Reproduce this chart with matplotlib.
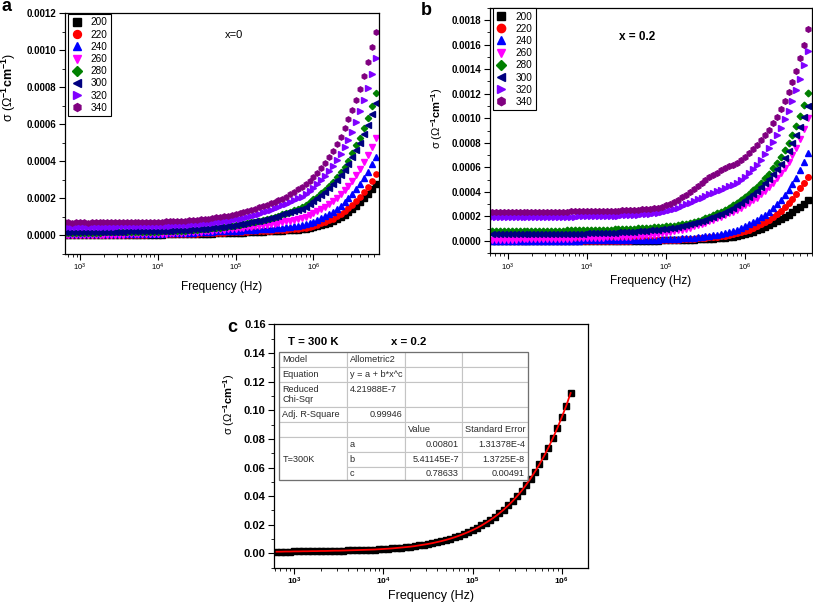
import matplotlib
matplotlib.use('Agg')
import matplotlib.pyplot as plt
import numpy as np
from matplotlib.table import Table
from matplotlib.patches import Rectangle
from matplotlib.ticker import NullFormatter, LogLocator

plt.rcParams['font.family'] = ['Liberation Sans', 'DejaVu Sans']
plt.rcParams['mathtext.fontset'] = 'custom'
plt.rcParams['mathtext.rm'] = 'Liberation Sans'
plt.rcParams['mathtext.bf'] = 'Liberation Sans:bold'
plt.rcParams['mathtext.it'] = 'Liberation Sans:italic'

# measured frequencies (Hz), 20 points per decade
freq = [631, 708, 794, 891, 1000, 1122, 1259, 1413, 1585, 1778,
        1995, 2239, 2512, 2818, 3162, 3548, 3981, 4467, 5012, 5623,
        6310, 7079, 7943, 8913, 10000, 11220, 12590, 14130, 15850, 17780,
        19950, 22390, 25120, 28180, 31620, 35480, 39810, 44670, 50120, 56230,
        63100, 70790, 79430, 89130, 1.0e5, 1.122e5, 1.259e5, 1.413e5, 1.585e5, 1.778e5,
        1.995e5, 2.239e5, 2.512e5, 2.818e5, 3.162e5, 3.548e5, 3.981e5, 4.467e5, 5.012e5, 5.623e5,
        6.310e5, 7.079e5, 7.943e5, 8.913e5, 1.0e6, 1.122e6, 1.259e6, 1.413e6, 1.585e6, 1.778e6,
        1.995e6, 2.239e6, 2.512e6, 2.818e6, 3.162e6, 3.548e6, 3.981e6, 4.467e6, 5.012e6, 5.623e6,
        6.310e6]

temps = ['200', '220', '240', '260', '280', '300', '320', '340']

# panel a (x = 0), sigma in 1e-4 S/cm
a_200 = [0.00]*16 + [0.01, 0.01, 0.01, 0.01,
         0.01, 0.01, 0.02, 0.02, 0.02, 0.02, 0.03, 0.03, 0.03, 0.04, 0.04, 0.05, 0.05, 0.06, 0.06, 0.07, 0.07, 0.08, 0.08, 0.09,
         0.09, 0.10, 0.11, 0.11, 0.12, 0.13, 0.13, 0.14, 0.15, 0.16, 0.17, 0.18, 0.19, 0.20, 0.21, 0.22, 0.23, 0.25, 0.26, 0.27,
         0.29, 0.31, 0.34, 0.38, 0.42, 0.47, 0.52, 0.60, 0.67, 0.76, 0.85, 0.96, 1.08, 1.23, 1.39, 1.57, 1.77, 1.99, 2.22, 2.47,
         2.76]
a_220 = [0.00]*12 + [0.01, 0.01, 0.01, 0.01, 0.01, 0.01, 0.02, 0.02,
         0.02, 0.02, 0.03, 0.03, 0.03, 0.04, 0.04, 0.05, 0.05, 0.06, 0.06, 0.07, 0.07, 0.08, 0.08, 0.09, 0.10, 0.10, 0.11, 0.12,
         0.12, 0.13, 0.14, 0.15, 0.15, 0.16, 0.17, 0.18, 0.19, 0.20, 0.21, 0.22, 0.23, 0.24, 0.25, 0.27, 0.28, 0.29, 0.31, 0.32,
         0.34, 0.36, 0.40, 0.45, 0.50, 0.56, 0.63, 0.70, 0.79, 0.88, 1.01, 1.14, 1.28, 1.44, 1.62, 1.84, 2.08, 2.33, 2.62, 2.94,
         3.30]
a_240 = [0.04, 0.04, 0.04, 0.04, 0.04, 0.04, 0.04, 0.04, 0.04, 0.04, 0.05, 0.05, 0.05, 0.05, 0.05, 0.05, 0.05, 0.06, 0.06, 0.06,
         0.06, 0.07, 0.07, 0.07, 0.08, 0.08, 0.09, 0.09, 0.10, 0.10, 0.11, 0.12, 0.12, 0.13, 0.14, 0.15, 0.16, 0.17, 0.18, 0.19,
         0.19, 0.20, 0.21, 0.22, 0.23, 0.24, 0.25, 0.26, 0.28, 0.29, 0.30, 0.32, 0.33, 0.35, 0.36, 0.38, 0.40, 0.42, 0.44, 0.46,
         0.49, 0.52, 0.58, 0.65, 0.72, 0.81, 0.90, 1.01, 1.14, 1.26, 1.41, 1.57, 1.77, 1.99, 2.22, 2.47, 2.76, 3.07, 3.43, 3.83,
         4.24]
a_260 = [0.00, 0.00, 0.00, 0.00, 0.00, 0.00, 0.00, 0.00, 0.01, 0.01, 0.01, 0.01, 0.01, 0.02, 0.02, 0.02, 0.03, 0.03, 0.03, 0.04,
         0.04, 0.05, 0.05, 0.06, 0.07, 0.07, 0.08, 0.09, 0.10, 0.11, 0.12, 0.13, 0.14, 0.15, 0.17, 0.18, 0.20, 0.21, 0.23, 0.25,
         0.26, 0.28, 0.30, 0.32, 0.34, 0.36, 0.38, 0.41, 0.43, 0.46, 0.49, 0.52, 0.55, 0.58, 0.62, 0.65, 0.69, 0.73, 0.77, 0.81,
         0.85, 0.90, 0.99, 1.08, 1.17, 1.28, 1.41, 1.53, 1.68, 1.84, 2.02, 2.22, 2.44, 2.67, 2.94, 3.23, 3.56, 3.92, 4.33, 4.78,
         5.23]
a_280 = [0.13, 0.13, 0.13, 0.13, 0.13, 0.13, 0.13, 0.13, 0.13, 0.13, 0.14, 0.14, 0.14, 0.14, 0.14, 0.14, 0.15, 0.15, 0.15, 0.15,
         0.16, 0.16, 0.17, 0.17, 0.18, 0.19, 0.19, 0.20, 0.21, 0.22, 0.23, 0.24, 0.25, 0.27, 0.28, 0.30, 0.32, 0.34, 0.36, 0.38,
         0.40, 0.43, 0.46, 0.49, 0.52, 0.56, 0.60, 0.64, 0.68, 0.72, 0.77, 0.82, 0.87, 0.93, 0.99, 1.05, 1.12, 1.19, 1.26, 1.33,
         1.42, 1.53, 1.64, 1.79, 1.93, 2.08, 2.26, 2.44, 2.65, 2.87, 3.12, 3.39, 3.70, 4.02, 4.42, 4.84, 5.27, 5.78, 6.32, 6.98,
         7.67]
a_300 = [0.17, 0.17, 0.17, 0.17, 0.17, 0.17, 0.17, 0.17, 0.17, 0.17, 0.17, 0.18, 0.18, 0.18, 0.18, 0.18, 0.19, 0.19, 0.19, 0.19,
         0.20, 0.20, 0.21, 0.21, 0.22, 0.22, 0.23, 0.24, 0.25, 0.26, 0.27, 0.28, 0.29, 0.30, 0.32, 0.33, 0.35, 0.37, 0.39, 0.41,
         0.43, 0.45, 0.48, 0.51, 0.54, 0.57, 0.61, 0.65, 0.69, 0.73, 0.78, 0.83, 0.88, 0.93, 0.99, 1.05, 1.11, 1.18, 1.25, 1.32,
         1.36, 1.41, 1.53, 1.69, 1.83, 1.99, 2.15, 2.33, 2.53, 2.74, 2.98, 3.24, 3.52, 3.85, 4.21, 4.60, 5.00, 5.45, 5.96, 6.55,
         7.16]
a_320 = [0.45, 0.45, 0.44, 0.45, 0.45, 0.45, 0.45, 0.44, 0.45, 0.45, 0.45, 0.45, 0.45, 0.45, 0.46, 0.46, 0.46, 0.46, 0.47, 0.47,
         0.47, 0.48, 0.48, 0.49, 0.49, 0.50, 0.50, 0.51, 0.52, 0.53, 0.54, 0.55, 0.56, 0.57, 0.59, 0.61, 0.63, 0.65, 0.67, 0.70,
         0.72, 0.75, 0.78, 0.81, 0.85, 0.89, 0.93, 0.98, 1.03, 1.09, 1.16, 1.22, 1.29, 1.36, 1.44, 1.52, 1.61, 1.70, 1.80, 1.90,
         1.99, 2.08, 2.22, 2.38, 2.56, 2.76, 2.98, 3.21, 3.46, 3.74, 4.06, 4.38, 4.74, 5.14, 5.59, 6.12, 6.68, 7.28, 7.94, 8.72,
         9.57]
a_340 = [0.68, 0.68, 0.67, 0.68, 0.68, 0.68, 0.67, 0.68, 0.68, 0.68, 0.68, 0.68, 0.68, 0.68, 0.69, 0.69, 0.69, 0.69, 0.69, 0.70,
         0.70, 0.70, 0.71, 0.71, 0.72, 0.72, 0.73, 0.74, 0.75, 0.76, 0.77, 0.78, 0.80, 0.81, 0.83, 0.85, 0.87, 0.89, 0.92, 0.95,
         0.98, 1.01, 1.05, 1.09, 1.13, 1.18, 1.23, 1.29, 1.35, 1.42, 1.49, 1.56, 1.63, 1.71, 1.79, 1.88, 1.97, 2.08, 2.20, 2.33,
         2.47, 2.62, 2.76, 2.94, 3.16, 3.37, 3.61, 3.88, 4.21, 4.55, 4.93, 5.32, 5.78, 6.26, 6.77, 7.31, 7.90, 8.57, 9.33, 10.16,
         11.00]

# panel b (x = 0.2), sigma in 1e-4 S/cm
b_200 = [0.00]*20 + [
         0.01, 0.01, 0.01, 0.01, 0.01, 0.01, 0.01, 0.02, 0.02, 0.02, 0.02, 0.02, 0.02, 0.02, 0.03, 0.03, 0.03, 0.03, 0.03, 0.03,
         0.04, 0.04, 0.04, 0.05, 0.05, 0.06, 0.07, 0.07, 0.08, 0.09, 0.10, 0.11, 0.13, 0.14, 0.16, 0.18, 0.20, 0.22, 0.25, 0.28,
         0.32, 0.36, 0.41, 0.49, 0.57, 0.65, 0.76, 0.87, 1.00, 1.14, 1.28, 1.44, 1.60, 1.76, 1.95, 2.14, 2.36, 2.58, 2.80, 3.04,
         3.31]
b_220 = [0.00]*16 + [0.01, 0.01, 0.01, 0.01,
         0.01, 0.01, 0.01, 0.01, 0.02, 0.02, 0.02, 0.02, 0.02, 0.03, 0.03, 0.03, 0.03, 0.04, 0.04, 0.04, 0.05, 0.05, 0.05, 0.06,
         0.06, 0.07, 0.07, 0.08, 0.09, 0.10, 0.11, 0.12, 0.14, 0.15, 0.17, 0.19, 0.21, 0.23, 0.26, 0.29, 0.32, 0.36, 0.40, 0.45,
         0.50, 0.56, 0.63, 0.71, 0.81, 0.92, 1.06, 1.20, 1.36, 1.55, 1.74, 1.95, 2.20, 2.47, 2.77, 3.09, 3.45, 3.85, 4.29, 4.75,
         5.24]
b_240 = [0.03]*15 + [0.04, 0.04, 0.04, 0.04, 0.04,
         0.04, 0.04, 0.04, 0.05, 0.05, 0.05, 0.05, 0.06, 0.06, 0.06, 0.06, 0.07, 0.07, 0.07, 0.08, 0.08, 0.08, 0.09, 0.09, 0.10,
         0.10, 0.11, 0.12, 0.13, 0.14, 0.16, 0.17, 0.19, 0.21, 0.23, 0.25, 0.28, 0.31, 0.34, 0.38, 0.42, 0.47, 0.52, 0.58, 0.65,
         0.73, 0.82, 0.92, 1.06, 1.20, 1.36, 1.52, 1.71, 1.93, 2.14, 2.39, 2.69, 2.99, 3.34, 3.72, 4.15, 4.62, 5.16, 5.78, 6.46,
         7.19]
b_260 = [0.12, 0.12, 0.12, 0.12, 0.12, 0.12, 0.12, 0.13, 0.13, 0.13, 0.13, 0.14, 0.14, 0.15, 0.15, 0.16, 0.17, 0.17, 0.18, 0.19,
         0.20, 0.21, 0.22, 0.23, 0.24, 0.25, 0.26, 0.27, 0.28, 0.29, 0.30, 0.31, 0.32, 0.33, 0.35, 0.36, 0.38, 0.40, 0.43, 0.46,
         0.49, 0.53, 0.57, 0.62, 0.67, 0.73, 0.79, 0.86, 0.93, 1.01, 1.10, 1.19, 1.29, 1.39, 1.50, 1.61, 1.73, 1.85, 1.98, 2.11,
         2.25, 2.40, 2.55, 2.72, 2.90, 3.09, 3.31, 3.53, 3.80, 4.07, 4.40, 4.72, 5.10, 5.51, 5.97, 6.46, 7.00, 7.60, 8.28, 9.09,
         10.04]
b_280 = [0.82, 0.82, 0.82, 0.82, 0.82, 0.83, 0.82, 0.83, 0.83, 0.83, 0.83, 0.83, 0.84, 0.84, 0.84, 0.84, 0.85, 0.85, 0.85, 0.86,
         0.86, 0.86, 0.87, 0.87, 0.88, 0.88, 0.89, 0.90, 0.91, 0.92, 0.93, 0.94, 0.95, 0.96, 0.98, 0.99, 1.01, 1.03, 1.05, 1.07,
         1.09, 1.11, 1.13, 1.16, 1.19, 1.22, 1.26, 1.30, 1.35, 1.41, 1.48, 1.56, 1.65, 1.75, 1.86, 1.98, 2.11, 2.25, 2.40, 2.56,
         2.73, 2.92, 3.12, 3.34, 3.58, 3.85, 4.13, 4.42, 4.75, 5.10, 5.48, 5.92, 6.38, 6.87, 7.41, 8.00, 8.63, 9.36, 10.18, 11.07,
         12.08]
b_300 = [0.54, 0.54, 0.54, 0.54, 0.55, 0.55, 0.55, 0.55, 0.55, 0.55, 0.56, 0.56, 0.56, 0.56, 0.56, 0.57, 0.57, 0.57, 0.57, 0.58,
         0.58, 0.59, 0.60, 0.61, 0.62, 0.63, 0.64, 0.65, 0.66, 0.67, 0.68, 0.69, 0.70, 0.71, 0.73, 0.74, 0.76, 0.78, 0.80, 0.83,
         0.86, 0.89, 0.92, 0.96, 1.00, 1.05, 1.10, 1.16, 1.22, 1.29, 1.37, 1.45, 1.54, 1.64, 1.74, 1.85, 1.97, 2.10, 2.24, 2.39,
         2.55, 2.72, 2.90, 3.10, 3.32, 3.55, 3.80, 4.08, 4.38, 4.70, 5.05, 5.45, 5.85, 6.30, 6.80, 7.35, 7.95, 8.60, 9.30, 10.10,
         11.00]
b_320 = [1.95, 1.96, 1.95, 1.96, 1.96, 1.96, 1.95, 1.96, 1.96, 1.97, 1.96, 1.97, 1.97, 1.97, 1.97, 1.98, 1.98, 1.98, 1.98, 1.99,
         1.99, 1.99, 2.00, 2.00, 2.01, 2.01, 2.02, 2.02, 2.03, 2.04, 2.05, 2.06, 2.07, 2.08, 2.10, 2.12, 2.14, 2.16, 2.18, 2.21,
         2.24, 2.28, 2.32, 2.38, 2.45, 2.53, 2.62, 2.73, 2.85, 2.98, 3.12, 3.26, 3.40, 3.54, 3.67, 3.80, 3.93, 4.06, 4.19, 4.32,
         4.45, 4.58, 4.70, 4.94, 5.20, 5.50, 5.84, 6.20, 6.60, 7.06, 7.55, 8.06, 8.60, 9.20, 9.90, 10.60, 11.40, 12.27, 13.20, 14.30,
         15.50]
b_340 = [2.36, 2.37, 2.36, 2.37, 2.37, 2.38, 2.37, 2.38, 2.38, 2.38, 2.38, 2.39, 2.38, 2.39, 2.39, 2.39, 2.40, 2.40, 2.40, 2.40,
         2.41, 2.41, 2.41, 2.42, 2.42, 2.43, 2.43, 2.44, 2.44, 2.45, 2.46, 2.47, 2.48, 2.49, 2.50, 2.52, 2.54, 2.56, 2.58, 2.61,
         2.64, 2.68, 2.73, 2.80, 2.90, 3.02, 3.17, 3.35, 3.55, 3.78, 4.02, 4.27, 4.52, 4.75, 4.97, 5.18, 5.38, 5.57, 5.76, 5.94,
         6.10, 6.22, 6.35, 6.60, 6.87, 7.14, 7.46, 7.82, 8.20, 8.60, 9.07, 9.58, 10.12, 10.72, 11.40, 12.13, 12.95, 13.84, 14.90, 16.00,
         17.24]

# panel c (x = 0.2, T = 300 K), sigma in S/cm, first 67 frequencies
c_300 = [0.0012, 0.0012, 0.0013, 0.0013, 0.0014, 0.0014, 0.0015, 0.0015, 0.0016, 0.0016,
         0.0017, 0.0017, 0.0018, 0.0019, 0.0019, 0.0020, 0.0021, 0.0022, 0.0023, 0.0024,
         0.0025, 0.0026, 0.0027, 0.0029, 0.0031, 0.0033, 0.0035, 0.0038, 0.0041, 0.0044,
         0.0047, 0.0051, 0.0056, 0.0061, 0.0066, 0.0072, 0.0079, 0.0086, 0.0094, 0.0103,
         0.0113, 0.0124, 0.0136, 0.0149, 0.0163, 0.0178, 0.0195, 0.0214, 0.0234, 0.0256,
         0.0280, 0.0306, 0.0335, 0.0366, 0.0400, 0.0437, 0.0478, 0.0523, 0.0571, 0.0622,
         0.0678, 0.0738, 0.0804, 0.0874, 0.0950, 0.1030, 0.1120]

series_a = [a_200, a_220, a_240, a_260, a_280, a_300, a_320, a_340]
series_b = [b_200, b_220, b_240, b_260, b_280, b_300, b_320, b_340]

markers = ['s', 'o', '^', 'v', 'D', '<', '>', 'h']
colors = ['#000000', '#ff0000', '#0000ff', '#ff00ff', '#008000', '#000080', '#8000ff', '#800080']

ylab = 'σ (Ω$^{\\mathbf{-1}}$$\\mathbf{cm^{-1}}$)'

fig = plt.figure(figsize=(8.13, 6.03), dpi=100)


def style_axes(ax, xlim, ylim, yticks, ylabels, yminor, xbold, ysize):
    ax.set_xscale('log')
    ax.set_xlim(*xlim)
    ax.set_ylim(*ylim)
    ax.set_yticks(yticks, labels=ylabels, fontweight='bold', fontsize=ysize)
    ax.set_yticks(yminor, minor=True)
    xt = [1e3, 1e4, 1e5, 1e6]
    if xbold:
        xl = [r'$\mathbf{10^{%d}}$' % k for k in range(3, 7)]
    else:
        xl = [r'$10^{%d}$' % k for k in range(3, 7)]
    ax.set_xticks(xt, labels=xl, fontsize=5.5 if not xbold else 6)
    ax.xaxis.set_minor_locator(LogLocator(base=10, subs=np.arange(2, 10)))
    ax.xaxis.set_minor_formatter(NullFormatter())
    ax.tick_params(which='major', direction='out', length=4, width=0.8, pad=2)
    ax.tick_params(which='minor', direction='out', length=2.5, width=0.6)
    ax.tick_params(top=False, right=False)
    for s in ax.spines.values():
        s.set_linewidth(0.9)


# ---- panel a
ax1 = fig.add_axes([0.0800, 0.5796, 0.3862, 0.3988])
for vals, t, m, c in zip(series_a, temps, markers, colors):
    ax1.plot(freq, np.array(vals) * 1e-4, ls='none', marker=m, ms=3.2 if m == 'D' else 3.8,
             color=c, mec=c, label=t)
ya = [0.0002 * k for k in range(7)]
style_axes(ax1, (640, 6.97e6), (-0.0001, 0.0012), ya, ['%.4f' % v for v in ya],
           [0.0001 * k for k in range(-1, 13)], False, 7)
ax1.set_xlabel('Frequency (Hz)', fontsize=8.5)
ax1.xaxis.set_label_coords(0.5, -0.114)
ax1.xaxis.label.set_va('top')
ax1.set_ylabel(ylab, fontsize=9)
ax1.yaxis.set_label_coords(-0.15, 0.69)
ax1.text(0.538, 0.9085, 'x=0', transform=ax1.transAxes, ha='center', va='center', fontsize=8)
leg = ax1.legend(loc='upper left', bbox_to_anchor=(0.0096, 0.996), borderaxespad=0, fancybox=False,
                 edgecolor='black', framealpha=1, fontsize=7.2, markerscale=1.5, handlelength=1.0,
                 handletextpad=0.9, labelspacing=0.22, borderpad=0.35)
leg.get_frame().set_linewidth(0.8)

# ---- panel b
ax2 = fig.add_axes([0.6027, 0.5799, 0.3961, 0.4073])
for vals, t, m, c in zip(series_b, temps, markers, colors):
    ax2.plot(freq, np.array(vals) * 1e-4, ls='none', marker=m, ms=3.4 if m == 'D' else 4.0,
             color=c, mec=c, label=t)
yb = [0.0002 * k for k in range(10)]
style_axes(ax2, (597, 7.03e6), (-0.0001, 0.0019), yb, ['%.4f' % v for v in yb],
           [0.0001 * k for k in range(-1, 20)], False, 7)
ax2.set_xlabel('Frequency (Hz)', fontsize=8.5)
ax2.xaxis.set_label_coords(0.5, -0.088)
ax2.xaxis.label.set_va('top')
ax2.set_ylabel(ylab, fontsize=8)
ax2.yaxis.set_label_coords(-0.14, 0.55)
ax2.text(0.458, 0.881, 'x = 0.2', transform=ax2.transAxes, ha='center', va='center',
         fontsize=8.5, fontweight='bold')
leg = ax2.legend(loc='upper left', bbox_to_anchor=(0.0093, 0.9988), borderaxespad=0, fancybox=False,
                 edgecolor='black', framealpha=1, fontsize=7.2, markerscale=1.5, handlelength=1.0,
                 handletextpad=0.9, labelspacing=0.22, borderpad=0.35)
leg.get_frame().set_linewidth(0.8)

# ---- panel c
ax3 = fig.add_axes([0.3370, 0.0585, 0.3862, 0.4036])
freq_c = freq[:len(c_300)]
ax3.plot(freq_c, c_300, ls='none', marker='s', ms=4.2, color='black')
ax3.plot(freq_c, c_300, color='red', lw=1.3)
yc = [0.02 * k for k in range(9)]
style_axes(ax3, (592, 1.97e6), (-0.01, 0.16), yc, ['%.2f' % v for v in yc],
           [0.01 * k for k in range(-1, 17)], True, 8)
ax3.set_xlabel('Frequency (Hz)', fontsize=9)
ax3.xaxis.set_label_coords(0.5, -0.092)
ax3.xaxis.label.set_va('top')
ax3.set_ylabel(ylab, fontsize=8)
ax3.yaxis.set_label_coords(-0.118, 0.67)
ax3.text(0.124, 0.9285, 'T = 300 K', transform=ax3.transAxes, ha='center', va='center',
         fontsize=8.2, fontweight='bold')
ax3.text(0.43, 0.9285, 'x = 0.2', transform=ax3.transAxes, ha='center', va='center',
         fontsize=8.2, fontweight='bold')

# fit report table
fit_rows = [
    ['Model', 'Allometric2', '', ''],
    ['Equation', 'y = a + b*x^c', '', ''],
    ['Reduced\nChi-Sqr', '4.21988E-7\n', '', ''],
    ['Adj. R-Square', '0.99946', '', ''],
    ['', '', 'Value', 'Standard Error'],
    ['', 'a', '0.00801', '1.31378E-4'],
    ['T=300K', 'b', '5.41145E-7', '1.3725E-8'],
    ['', 'c', '0.78633', '0.00491'],
]
col_w = [67.7, 58.3, 56.7, 66.6]
row_h = [15, 15, 25.6, 15, 14.4, 15, 15, 13.3]
tbox = [0.0159, 0.3603, 0.794, 0.527]
tab = Table(ax3, bbox=tbox)
for r, row in enumerate(fit_rows):
    for c, txt in enumerate(row):
        loc = 'left'
        if r >= 5 and c >= 2:
            loc = 'right'
        if r == 3 and c == 1:
            loc = 'right'
        edges = 'closed'
        if c == 0 and r == 5:
            edges = 'LRT'
        elif c == 0 and r == 6:
            edges = 'LR'
        elif c == 0 and r == 7:
            edges = 'LRB'
        cell = tab.add_cell(r, c, col_w[c], row_h[r], text=txt, loc=loc,
                            edgecolor='#c4c4c4', facecolor='white')
        cell.visible_edges = edges
        cell.PAD = 0.05
        cell.set_linewidth(0.8)
        cell.get_text().set_color('#2a2a2a')
        cell.get_text().set_linespacing(1.1)
tab.auto_set_font_size(False)
tab.set_fontsize(6.6)
ax3.add_table(tab)
ax3.add_patch(Rectangle((tbox[0], tbox[1]), tbox[2], tbox[3], transform=ax3.transAxes,
                        fill=False, edgecolor='#707070', lw=0.9, zorder=5))

# panel letters
fig.text(0.0086, 0.9884, 'a', ha='center', va='center', fontsize=13, fontweight='bold')
fig.text(0.524, 0.9818, 'b', ha='center', va='center', fontsize=13, fontweight='bold')
fig.text(0.2854, 0.4577, 'c', ha='center', va='center', fontsize=13, fontweight='bold')

fig.savefig('out.png', dpi=100)
